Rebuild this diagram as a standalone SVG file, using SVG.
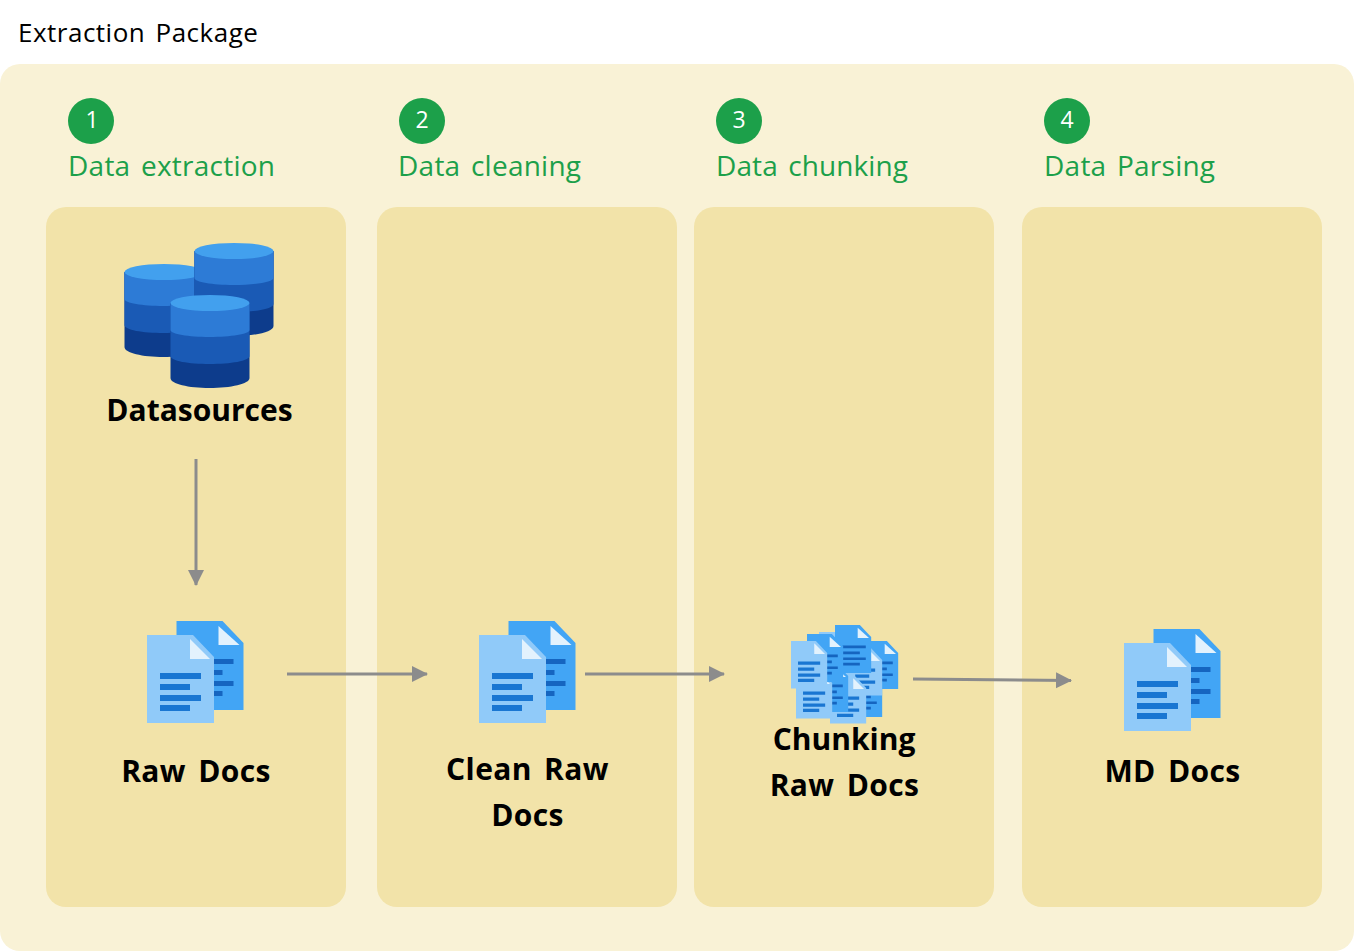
<svg xmlns="http://www.w3.org/2000/svg" width="1354" height="951" viewBox="0 0 1354 951">
<style>
text{font-family:"Open Sans","Liberation Sans",sans-serif}
.title{font-size:26px;fill:#000;letter-spacing:.5px;word-spacing:3px}
.step{font-size:28px;fill:#1ca04a;letter-spacing:.25px;word-spacing:3px}
.num{font-size:23px;fill:#fff;text-anchor:middle}
.lbl{font-size:30px;font-weight:700;fill:#000;text-anchor:middle}
.wide{letter-spacing:.4px;word-spacing:4px}
.panel{fill:#f2e3a9}
.badge{fill:#1ca04a}
.conn{stroke:#8c8c8c;stroke-width:3;fill:none;marker-end:url(#arrow)}
</style>
<defs>
<marker id="arrow" markerUnits="userSpaceOnUse" markerWidth="18" markerHeight="18" refX="15" refY="8" orient="auto"><path d="M0 0L16 8L0 16Z" fill="#8c8c8c"/></marker>
<g id="sheetD"><path d="M0 0H46L67 22V89H0Z" fill="#42a5f5"/><path d="M42 5V24H63Z" fill="#e3f2fd"/><path d="M10 38H57V43H10ZM10 49H46V54H10ZM10 60H57V65H10ZM10 70H46V75H10Z" fill="#1565c0"/></g>
<g id="sheetL"><path d="M0 0H46L67 22V88H0Z" fill="#90caf9"/><path d="M43 4V24H63Z" fill="#e3f2fd"/><path d="M13 38H54V44H13ZM13 49H43V55H13ZM13 60H54V66H13ZM13 70H43V76H13Z" fill="#1976d2"/></g>
<g id="docs"><use href="#sheetD" x="29.500" y="0"/><use href="#sheetL" x="0" y="14"/></g>
<g id="cyl"><path d="M0 8V83C0 89 18 93 39 93S79 89 79 83V8Z" fill="#0d3c8c"/><path d="M0 8V61C0 66 18 69 39 69S79 66 79 61V8Z" fill="#1a5ab5"/><path d="M0 8V35C0 39 18 42 39 42S79 39 79 35V8Z" fill="#2d7bd6"/><ellipse cx="39.500" cy="8" rx="39.500" ry="8" fill="#42a0ee"/></g>
</defs>
<g id="background">
<text class="title" x="18" y="42">Extraction Package</text>
<rect x="0" y="64" width="1354" height="887" rx="20" fill="#f9f2d6"/>
</g>
<g id="panel-1"><rect class="panel" x="46" y="207" width="300" height="700" rx="20"/></g>
<g id="panel-2"><rect class="panel" x="377" y="207" width="300" height="700" rx="20"/></g>
<g id="panel-3"><rect class="panel" x="694" y="207" width="300" height="700" rx="20"/></g>
<g id="panel-4"><rect class="panel" x="1022" y="207" width="300" height="700" rx="20"/></g>
<g id="step-1"><circle class="badge" cx="91" cy="121" r="23"/><text class="num" x="92" y="128">1</text><text class="step" x="68" y="176">Data extraction</text></g>
<g id="step-2"><circle class="badge" cx="422" cy="121" r="23"/><text class="num" x="422" y="128">2</text><text class="step" x="398" y="176">Data cleaning</text></g>
<g id="step-3"><circle class="badge" cx="739" cy="121" r="23"/><text class="num" x="739" y="128">3</text><text class="step" x="716" y="176" style="letter-spacing:.1px">Data chunking</text></g>
<g id="step-4"><circle class="badge" cx="1067" cy="121" r="23"/><text class="num" x="1067" y="128">4</text><text class="step" x="1044" y="176">Data Parsing</text></g>
<g id="datasources"><use href="#cyl" x="124.500" y="264"/><use href="#cyl" x="194.500" y="243"/><use href="#cyl" x="170.500" y="295"/><text class="lbl" x="199.500" y="421">Datasources</text></g>
<g id="raw-docs"><use href="#docs" x="147" y="621"/><text class="lbl wide" x="196" y="782">Raw Docs</text></g>
<g id="clean-raw-docs"><use href="#docs" x="479" y="621"/><text class="lbl wide" x="527.500" y="780">Clean Raw</text><text class="lbl wide" x="527.500" y="826">Docs</text></g>
<g id="chunking-raw-docs">
<g transform="translate(862 641) scale(.54)"><use href="#sheetD"/></g>
<g transform="translate(846 669) scale(.54)"><use href="#sheetD"/></g>
<g transform="translate(846 648) scale(.54)"><use href="#sheetL"/></g>
<g transform="translate(819 632) scale(.54)"><use href="#sheetL"/></g>
<g transform="translate(835 625) scale(.54)"><use href="#sheetD"/></g>
<g transform="translate(830 676) scale(.54)"><use href="#sheetL"/></g>
<g transform="translate(812 664) scale(.54)"><use href="#sheetD"/></g>
<g transform="translate(796 671) scale(.54)"><use href="#sheetL"/></g>
<g transform="translate(807 634) scale(.54)"><use href="#sheetD"/></g>
<g transform="translate(791 641) scale(.54)"><use href="#sheetL"/></g>
<text class="lbl" x="844" y="750">Chunking</text><text class="lbl wide" x="844.500" y="796">Raw Docs</text></g>
<g id="md-docs"><use href="#docs" x="1124" y="629"/><text class="lbl wide" x="1172.500" y="782">MD Docs</text></g>
<g id="connectors">
<path class="conn" d="M196 459V585"/>
<path class="conn" d="M287 674H427"/>
<path class="conn" d="M585 674H724"/>
<path class="conn" d="M913 679L1071 680.500"/>
</g>
</svg>
